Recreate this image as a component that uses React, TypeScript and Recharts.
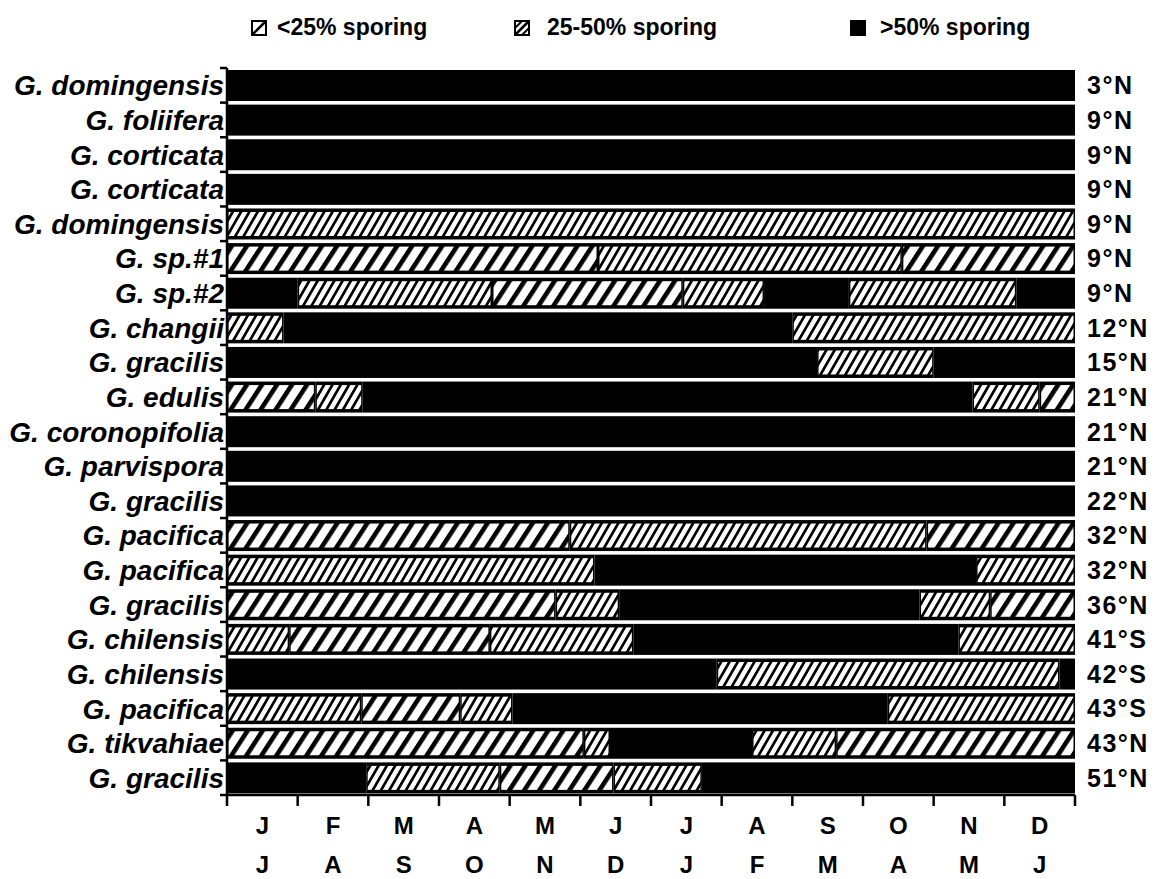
import React from 'react';
import { BarChart, Bar, XAxis, YAxis, Legend } from 'recharts';

const species = [
  'G. domingensis', 'G. foliifera', 'G. corticata', 'G. corticata', 'G. domingensis',
  'G. sp.#1', 'G. sp.#2', 'G. changii', 'G. gracilis', 'G. edulis', 'G. coronopifolia',
  'G. parvispora', 'G. gracilis', 'G. pacifica', 'G. pacifica', 'G. gracilis',
  'G. chilensis', 'G. chilensis', 'G. pacifica', 'G. tikvahiae', 'G. gracilis',
];
const latitudes = [
  '3°N', '9°N', '9°N', '9°N', '9°N', '9°N', '9°N', '12°N', '15°N', '21°N', '21°N',
  '21°N', '22°N', '32°N', '32°N', '36°N', '41°S', '42°S', '43°S', '43°N', '51°N',
];
const monthsNorth = ['J', 'F', 'M', 'A', 'M', 'J', 'J', 'A', 'S', 'O', 'N', 'D'];
const monthsSouth = ['J', 'A', 'S', 'O', 'N', 'D', 'J', 'F', 'M', 'A', 'M', 'J'];
const categories = ['<25% sporing', '25-50% sporing', '>50% sporing'];

// Each row: list of [end month, category index] (0 = <25%, 1 = 25-50%, 2 = >50%)
const phases: [number, number][][] = [
  [[12, 2]],
  [[12, 2]],
  [[12, 2]],
  [[12, 2]],
  [[12, 1]],
  [[5.25, 0], [9.55, 1], [12, 0]],
  [[1.0, 2], [3.75, 1], [6.45, 0], [7.6, 1], [8.8, 2], [11.17, 1], [12, 2]],
  [[0.8, 1], [8.0, 2], [12, 1]],
  [[8.35, 2], [10.0, 1], [12, 2]],
  [[1.25, 0], [1.92, 1], [10.55, 2], [11.5, 1], [12, 0]],
  [[12, 2]],
  [[12, 2]],
  [[12, 2]],
  [[4.85, 0], [9.9, 1], [12, 0]],
  [[5.2, 1], [10.6, 2], [12, 1]],
  [[4.65, 0], [5.55, 1], [9.8, 2], [10.8, 1], [12, 0]],
  [[0.88, 1], [3.72, 0], [5.75, 1], [10.35, 2], [12, 1]],
  [[6.93, 2], [11.78, 1], [12, 2]],
  [[1.9, 1], [3.3, 0], [4.04, 1], [9.35, 2], [12, 1]],
  [[5.05, 0], [5.42, 1], [7.43, 2], [8.62, 1], [12, 0]],
  [[1.97, 2], [3.86, 1], [5.47, 0], [6.72, 1], [12, 2]],
];

const MAX_SEG = Math.max(...phases.map((p) => p.length));
const segKeys = Array.from({ length: MAX_SEG }, (_, k) => k);

const data = phases.map((row, i) => {
  const d: Record<string, number> = { id: i };
  let prev = 0;
  segKeys.forEach((k) => {
    if (k < row.length) {
      d[`s${k}`] = row[k][0] - prev;
      d[`c${k}`] = row[k][1];
      prev = row[k][0];
    } else {
      d[`s${k}`] = 0;
      d[`c${k}`] = -1;
    }
  });
  return d;
});

const FONT = "'Liberation Sans', Arial, Helvetica, sans-serif";
const W = 1154;
const H = 871;
const patternIds = ['sparse', 'dense'];

const makeShape = (k: number) => (props: any) => {
  const { x, y, width, height, payload } = props;
  if (!width || width <= 0 || !payload) return <g />;
  const cat = payload[`c${k}`];
  if (cat === 2) return <rect x={x} y={y} width={width} height={height} fill="#000" />;
  if (cat < 0) return <g />;
  const inset = 3.5;
  return (
    <g>
      <rect x={x} y={y} width={width} height={height} fill="#000" />
      <rect
        x={x + 1.5}
        y={y + inset}
        width={Math.max(0, width - 3)}
        height={height - 2 * inset}
        fill={`url(#${patternIds[cat]})`}
      />
    </g>
  );
};

const EmptyTick = () => <g />;

const SpeciesTick = (props: any) => {
  const { x, y, payload, index, visibleTicksCount } = props;
  const half = payload && payload.offset ? payload.offset : 17.3;
  const isLast = index === (visibleTicksCount ?? species.length) - 1;
  return (
    <g>
      <line x1={x} x2={x - 7} y1={y - half} y2={y - half} stroke="#000" strokeWidth={2.5} />
      {isLast && <line x1={x} x2={x - 7} y1={y + half} y2={y + half} stroke="#000" strokeWidth={2.5} />}
      <text x={x - 3} y={y} dy="0.36em" textAnchor="end" fontSize={28} fontWeight="bold"
        fontStyle="italic" fill="#000" fontFamily={FONT}>
        {species[payload.value]}
      </text>
    </g>
  );
};

const LatTick = (props: any) => {
  const { x, y, payload } = props;
  return (
    <text x={x} y={y} dy="0.36em" textAnchor="start" fontSize={25} fontWeight="bold"
      letterSpacing={1.5} fill="#000" fontFamily={FONT}>
      {latitudes[payload.value]}
    </text>
  );
};

const MonthTick = (props: any) => {
  const { x, y, payload } = props;
  const idx = Math.floor(payload.value);
  return (
    <g>
      <text x={x} y={y} dy={25} textAnchor="middle" fontSize={24} fontWeight="bold" fill="#000" fontFamily={FONT}>
        {monthsNorth[idx]}
      </text>
      <text x={x} y={y} dy={64} textAnchor="middle" fontSize={24} fontWeight="bold" fill="#000" fontFamily={FONT}>
        {monthsSouth[idx]}
      </text>
    </g>
  );
};

const legendLeft = [243, 506, 842];
const legendGap = [10, 17, 14];

const LegendIcon = ({ cat }: { cat: number }) => (
  <svg width={16} height={16} style={{ display: 'block' }}>
    {cat === 2 ? (
      <rect x={0} y={0} width={16} height={16} fill="#000" />
    ) : (
      <g>
        <rect x={1} y={1} width={14} height={14} fill="#fff" stroke="#000" strokeWidth={2} />
        <line x1={1} y1={15} x2={15} y2={1} stroke="#000" strokeWidth={2.5} />
        {cat === 1 && <line x1={1} y1={8} x2={8} y2={1} stroke="#000" strokeWidth={2} />}
        {cat === 1 && <line x1={8} y1={15} x2={15} y2={8} stroke="#000" strokeWidth={2} />}
      </g>
    )}
  </svg>
);

const LegendContent = () => (
  <div style={{ position: 'relative', width: W, height: 60, fontFamily: FONT }}>
    {categories.map((c, i) => (
      <div key={c} style={{ position: 'absolute', left: legendLeft[i], top: 6, display: 'flex', alignItems: 'center' }}>
        <LegendIcon cat={i} />
        <span style={{ marginLeft: legendGap[i], fontSize: 23, fontWeight: 'bold', color: '#000', whiteSpace: 'nowrap' }}>{c}</span>
      </div>
    ))}
  </div>
);

export default function App() {
  return (
    <div style={{ width: W, height: H, background: '#fff' }}>
      <BarChart
        width={W}
        height={H}
        data={data}
        layout="vertical"
        barSize={31}
        margin={{ top: 0, right: 0, bottom: 0, left: 0 }}
      >
        <defs>
          <pattern id="sparse" patternUnits="userSpaceOnUse" width={12.6} height={12.6} patternTransform="rotate(33)">
            <rect x={0} y={0} width={12.6} height={12.6} fill="#fff" />
            <rect x={0} y={0} width={4.6} height={12.6} fill="#000" />
          </pattern>
          <pattern id="dense" patternUnits="userSpaceOnUse" width={7.2} height={7.2} patternTransform="rotate(30)">
            <rect x={0} y={0} width={7.2} height={7.2} fill="#fff" />
            <rect x={0} y={0} width={2.7} height={7.2} fill="#000" />
          </pattern>
        </defs>
        <Legend verticalAlign="top" align="left" wrapperStyle={{ top: 0, left: 0, width: W, height: 60 }} content={LegendContent} />
        <XAxis
          xAxisId="a"
          type="number"
          domain={[0, 12]}
          ticks={[0, 1, 2, 3, 4, 5, 6, 7, 8, 9, 10, 11, 12]}
          allowDataOverflow
          interval={0}
          tick={<EmptyTick />}
          tickSize={11}
          height={14}
          axisLine={{ stroke: '#000', strokeWidth: 2.5 }}
          tickLine={{ stroke: '#000', strokeWidth: 2.5 }}
        />
        <XAxis
          xAxisId="b"
          type="number"
          domain={[0, 12]}
          ticks={[0.5, 1.5, 2.5, 3.5, 4.5, 5.5, 6.5, 7.5, 8.5, 9.5, 10.5, 11.5]}
          allowDataOverflow
          interval={0}
          tick={<MonthTick />}
          tickLine={false}
          axisLine={false}
          tickSize={0}
          tickMargin={0}
          height={70}
        />
        <YAxis
          yAxisId="sp"
          type="category"
          dataKey="id"
          orientation="left"
          width={219}
          interval={0}
          tick={<SpeciesTick />}
          tickLine={false}
          axisLine={{ stroke: '#000', strokeWidth: 2.5 }}
          tickSize={0}
          tickMargin={0}
        />
        <YAxis
          yAxisId="lat"
          type="category"
          dataKey="id"
          orientation="right"
          width={87}
          interval={0}
          tick={<LatTick />}
          tickLine={false}
          axisLine={false}
          tickSize={0}
          tickMargin={12}
        />
        {segKeys.map((k) => (
          <Bar
            key={k}
            dataKey={`s${k}`}
            stackId="a"
            xAxisId="a"
            yAxisId="sp"
            isAnimationActive={false}
            shape={makeShape(k)}
          />
        ))}
      </BarChart>
    </div>
  );
}
